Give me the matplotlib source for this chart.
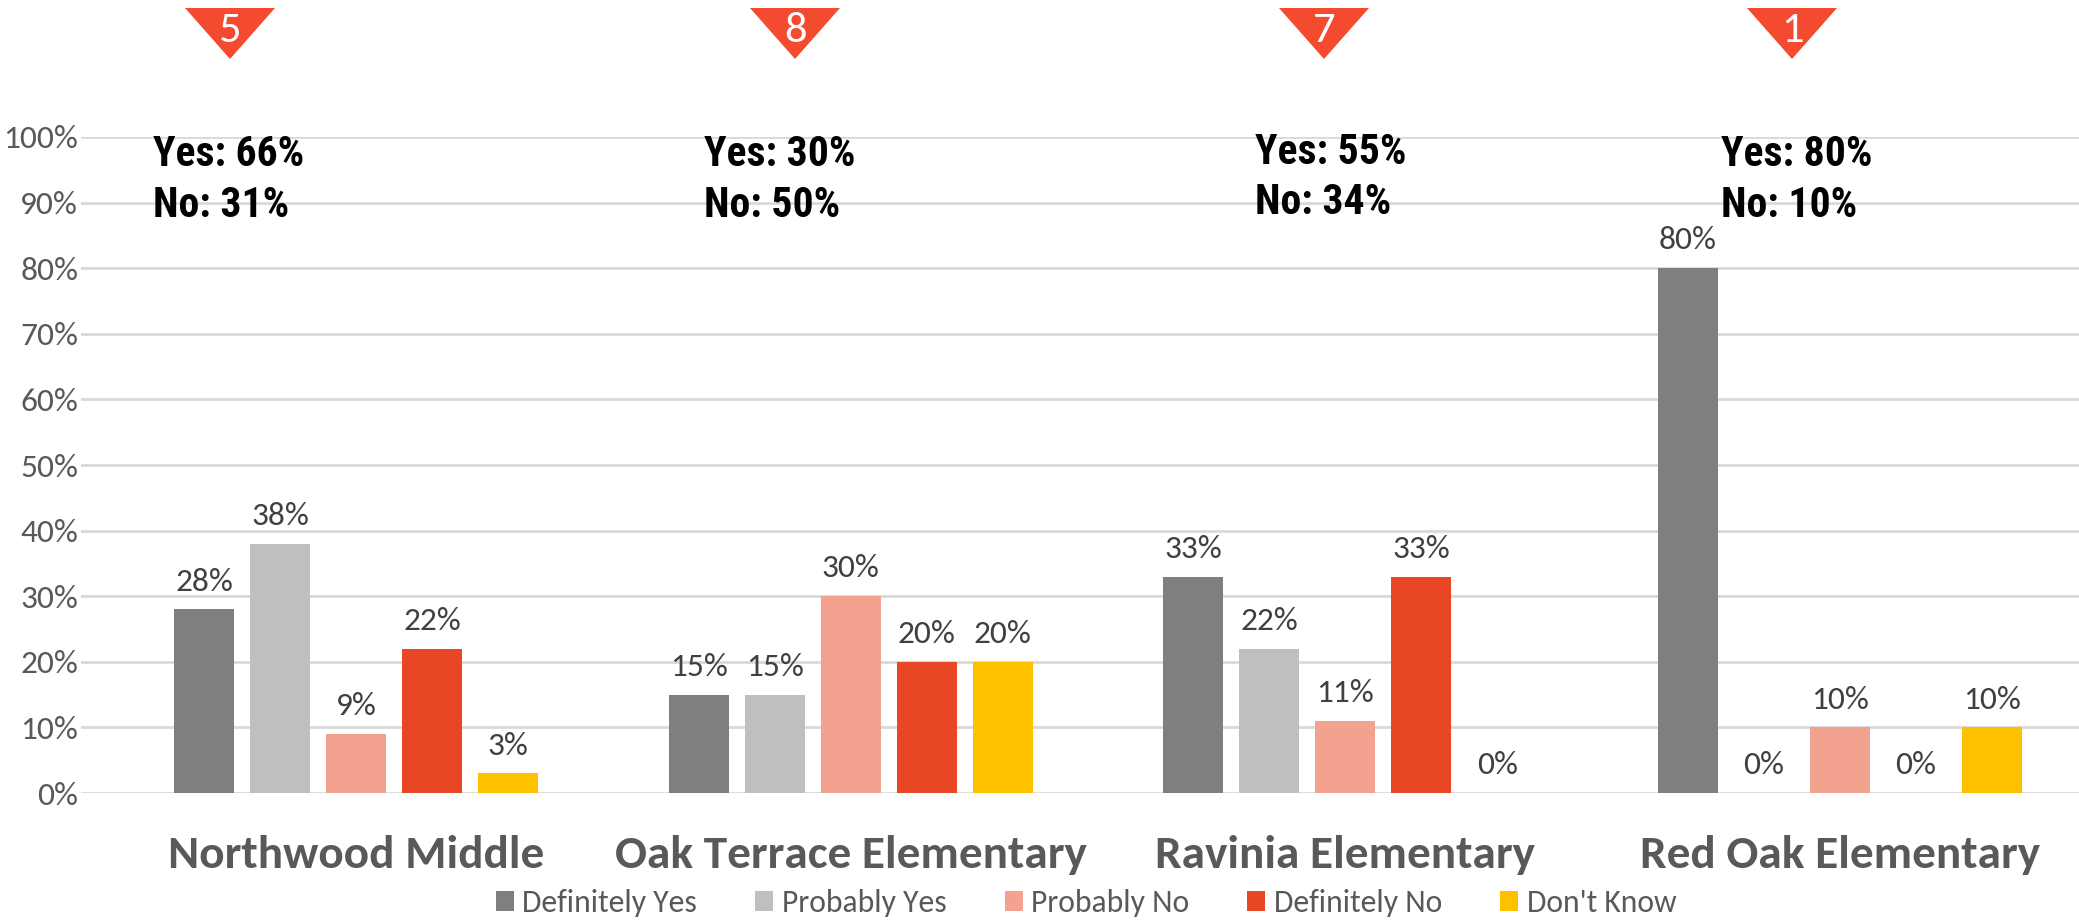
import matplotlib
matplotlib.use("Agg")
import matplotlib.pyplot as plt
from matplotlib.patches import Polygon
import numpy as np

W, H = 2079, 922
schools = ["Northwood Middle", "Oak Terrace Elementary", "Ravinia Elementary", "Red Oak Elementary"]
responses = ["Definitely Yes", "Probably Yes", "Probably No", "Definitely No", "Don't Know"]
definitely_yes = [28, 15, 33, 80]
probably_yes = [38, 15, 22, 0]
probably_no = [9, 30, 11, 10]
definitely_no = [22, 20, 33, 0]
dont_know = [3, 20, 0, 10]
ranks = ["5", "8", "7", "1"]
yes_labels = ["Yes: 66%", "Yes: 30%", "Yes: 55%", "Yes: 80%"]
no_labels = ["No: 31%", "No: 50%", "No: 34%", "No: 10%"]
colors = ["#7F7F7F", "#BFBFBF", "#F4A290", "#E94625", "#FFC000"]

BASE = "Carlito"
BOLD = "Roboto Condensed"

fig = plt.figure(figsize=(W/100, H/100), dpi=100)
ax = fig.add_axes([81/W, 1-793/H, (W-81)/W, (793-137)/H])
px_per_group = 494.6
c0 = 356.0
ax.set_xlim((81-c0)/px_per_group, (W-c0)/px_per_group)
ax.set_ylim(0, 100)
series = [definitely_yes, probably_yes, probably_no, definitely_no, dont_know]
step = 76/px_per_group
bw = 60/px_per_group
x = np.arange(len(schools))
for i, (vals, c, lab) in enumerate(zip(series, colors, responses)):
    xs = x + (i-2)*step
    ax.bar(xs, vals, bw, color=c, label=lab, zorder=3)
    for xx, v in zip(xs, vals):
        ax.text(xx, v+2.1, f"{v}%", ha="center", va="bottom", fontsize=24, color="#404040", family=BASE)
ax.set_yticks(np.arange(0, 101, 10))
ax.set_yticklabels([f"{v}%" for v in range(0, 101, 10)], fontsize=24, color="#595959", family=BASE)
ax.set_xticks(x)
ax.set_xticklabels(schools, fontsize=34, fontweight="bold", color="#595959", family=BASE)
ax.tick_params(axis="both", length=0)
ax.tick_params(axis="x", pad=30)
ax.tick_params(axis="y", pad=2)
ax.grid(axis="y", color="#D9D9D9", lw=2, zorder=0)
ax.set_axisbelow(True)
for s in ax.spines.values():
    s.set_visible(False)

txt_x = [153, 704, 1255, 1721]
txt_y = [[154, 205], [154, 205], [152, 203], [154, 205]]
tri_c = [230, 795, 1324, 1792]
for i in range(4):
    fig.text(txt_x[i]/W, 1-txt_y[i][0]/H, yes_labels[i], fontsize=30, fontweight="bold", family=BOLD, color="black", va="center")
    fig.text(txt_x[i]/W, 1-txt_y[i][1]/H, no_labels[i], fontsize=30, fontweight="bold", family=BOLD, color="black", va="center")
    cx = tri_c[i]
    fig.add_artist(Polygon([[(cx-45)/W, 1-8/H], [(cx+45)/W, 1-8/H], [cx/W, 1-59/H]], closed=True, transform=fig.transFigure, color="#F44A30", lw=0))
    fig.text(cx/W, 1-31/H, ranks[i], fontsize=32, color="white", family=BASE, ha="center", va="center")

handles, labels = ax.get_legend_handles_labels()
leg = fig.legend(handles, labels, loc="center", bbox_to_anchor=(1086/W, 1-903/H), ncol=5, frameon=False,
                 prop={"family": BASE, "size": 22.8}, labelcolor="#595959", handlelength=0.57, handleheight=0.57,
                 handletextpad=0.27, columnspacing=1.83, borderpad=0, borderaxespad=0)
fig.savefig("out.png", dpi=100)
